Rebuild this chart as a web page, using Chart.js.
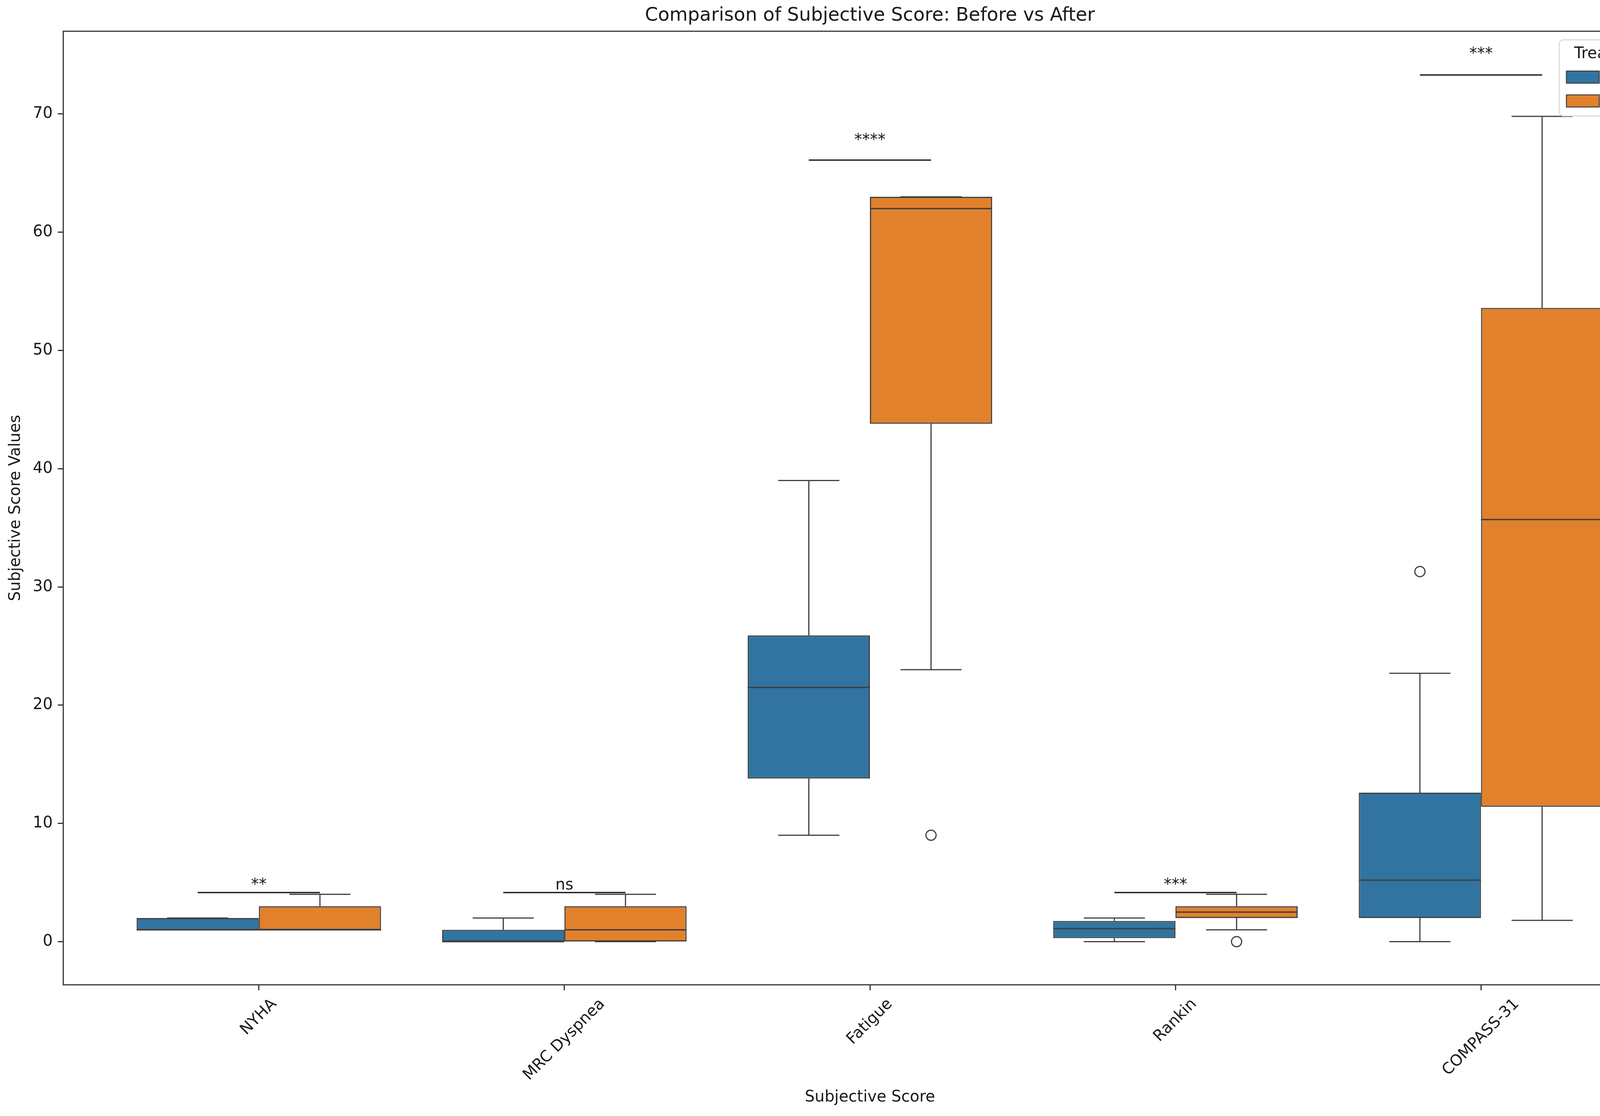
<!DOCTYPE html>
<html>
<head>
<meta charset="utf-8">
<title>Comparison of Subjective Score: Before vs After</title>
<script src="https://cdn.jsdelivr.net/npm/chart.js@4.4.1/dist/chart.umd.min.js"></script>
<style>
  html, body { margin: 0; padding: 0; background: #fff; overflow: hidden; }
  canvas { display: block; }
</style>
</head>
<body>
<canvas id="scoreChart" width="4317" height="2858"></canvas>
<script>
const categories = ["NYHA", "MRC Dyspnea", "Fatigue", "Rankin", "COMPASS-31"];

// After treatment (blue boxes)
const afterMin = [1, 0, 9, 0, 0];
const afterQ1 = [1, 0, 13.8, 0.3, 2];
const afterMedian = [1, 0, 21.5, 1.1, 5.2];
const afterQ3 = [2, 1, 25.9, 1.75, 12.6];
const afterMax = [2, 2, 39, 2, 22.7];
const afterOutliers = [[], [], [], [], [31.3]];

// Before treatment (orange boxes)
const beforeMin = [1, 0, 23, 1, 1.8];
const beforeQ1 = [1, 0, 43.8, 2, 11.4];
const beforeMedian = [1, 1, 62, 2.5, 35.7];
const beforeQ3 = [3, 3, 63, 3, 53.6];
const beforeMax = [4, 4, 63, 4, 69.8];
const beforeOutliers = [[], [], [9], [0], []];

// significance brackets: line level and text baseline level
const sigLabels = ["**", "ns", "****", "***", "***"];
const sigLevels = [4.15, 4.15, 66.1, 4.15, 73.3];
const sigTextLevels = [4.4, 4.4, 67.4, 4.4, 74.7];

const yTicks = [0, 10, 20, 30, 40, 50, 60, 70];

const BLUE = "#3274a1";
const ORANGE = "#e1812c";
const LINE = "#3f3f3f";
const FONT = "'DejaVu Sans', 'Liberation Sans', sans-serif";
const CAT_PCT = 0.8;
const dodge = CAT_PCT / 4;

Chart.defaults.font.family = FONT;
Chart.defaults.color = "#1a1a1a";

const boxStats = [
  { min: afterMin, q1: afterQ1, med: afterMedian, q3: afterQ3, max: afterMax },
  { min: beforeMin, q1: beforeQ1, med: beforeMedian, q3: beforeQ3, max: beforeMax }
];

function outlierPoints(list, shift) {
  const pts = [];
  list.forEach((vals, i) => vals.forEach(v => pts.push({ x: i + shift, y: v })));
  return pts;
}

// whiskers + caps under the boxes, medians over them
const boxParts = {
  id: "boxParts",
  beforeDatasetsDraw(chart) {
    const ctx = chart.ctx;
    const y = chart.scales.y;
    ctx.save();
    ctx.strokeStyle = LINE;
    ctx.lineWidth = 3;
    boxStats.forEach((s, d) => {
      chart.getDatasetMeta(d).data.forEach((bar, i) => {
        const half = bar.width / 4;
        const yMin = y.getPixelForValue(s.min[i]);
        const yMax = y.getPixelForValue(s.max[i]);
        ctx.beginPath();
        ctx.moveTo(bar.x, y.getPixelForValue(s.q1[i]));
        ctx.lineTo(bar.x, yMin);
        ctx.moveTo(bar.x, y.getPixelForValue(s.q3[i]));
        ctx.lineTo(bar.x, yMax);
        ctx.moveTo(bar.x - half, yMin);
        ctx.lineTo(bar.x + half, yMin);
        ctx.moveTo(bar.x - half, yMax);
        ctx.lineTo(bar.x + half, yMax);
        ctx.stroke();
      });
    });
    ctx.restore();
  },
  afterDatasetsDraw(chart) {
    const ctx = chart.ctx;
    const y = chart.scales.y;
    ctx.save();
    ctx.strokeStyle = LINE;
    ctx.lineWidth = 3.5;
    boxStats.forEach((s, d) => {
      chart.getDatasetMeta(d).data.forEach((bar, i) => {
        const py = y.getPixelForValue(s.med[i]);
        ctx.beginPath();
        ctx.moveTo(bar.x - bar.width / 2, py);
        ctx.lineTo(bar.x + bar.width / 2, py);
        ctx.stroke();
      });
    });
    ctx.restore();
  }
};

const extras = {
  id: "extras",
  afterDraw(chart) {
    const ctx = chart.ctx;
    const x = chart.scales.x;
    const y = chart.scales.y;
    const area = chart.chartArea;
    ctx.save();

    // significance lines and stars
    ctx.strokeStyle = "#222";
    ctx.lineWidth = 3.5;
    ctx.fillStyle = "#1a1a1a";
    ctx.font = "40px " + FONT;
    ctx.textAlign = "center";
    ctx.textBaseline = "alphabetic";
    sigLabels.forEach((lab, i) => {
      const py = y.getPixelForValue(sigLevels[i]);
      const x0 = x.getPixelForValue(i - dodge);
      const x1 = x.getPixelForValue(i + dodge);
      ctx.beginPath();
      ctx.moveTo(x0, py);
      ctx.lineTo(x1, py);
      ctx.stroke();
      ctx.fillText(lab, (x0 + x1) / 2, y.getPixelForValue(sigTextLevels[i]));
    });

    // x tick labels, rotated 45 deg and centred on the tick
    ctx.textBaseline = "middle";
    const top = area.bottom + 14 + 13;
    categories.forEach((c, i) => {
      const w = ctx.measureText(c).width;
      const half = (w + 46) * Math.SQRT1_2 / 2;
      ctx.save();
      ctx.translate(x.getPixelForValue(i), top + half);
      ctx.rotate(-Math.PI / 4);
      ctx.fillText(c, 0, 0);
      ctx.restore();
    });

    // axes frame
    ctx.strokeStyle = "#333";
    ctx.lineWidth = 3;
    ctx.strokeRect(area.left, area.top, area.right - area.left, area.bottom - area.top);

    // legend
    const lw = 279, lh = 195;
    const lx = area.right - 21 - lw, ly = area.top + 22;
    ctx.beginPath();
    ctx.roundRect(lx, ly, lw, lh, 10);
    ctx.fillStyle = "rgba(255,255,255,0.8)";
    ctx.fill();
    ctx.strokeStyle = "#d6d6d6";
    ctx.lineWidth = 2.5;
    ctx.stroke();
    ctx.fillStyle = "#1a1a1a";
    ctx.textAlign = "center";
    ctx.fillText("Treatment", lx + lw / 2, ly + 37);
    const entries = [["After", BLUE], ["Before", ORANGE]];
    entries.forEach((e, k) => {
      const ey = ly + 80 + k * 61;
      ctx.fillStyle = e[1];
      ctx.fillRect(lx + 18, ey, 84, 31);
      ctx.strokeStyle = LINE;
      ctx.lineWidth = 2.5;
      ctx.strokeRect(lx + 18, ey, 84, 31);
      ctx.fillStyle = "#1a1a1a";
      ctx.textAlign = "left";
      ctx.fillText(e[0], lx + 128, ey + 17);
    });
    ctx.restore();
  }
};

const boxDataset = (label, s, color) => ({
  label: label,
  data: categories.map((c, i) => ({ x: i, y: [s.q1[i], s.q3[i]] })),
  backgroundColor: color,
  borderColor: LINE,
  borderWidth: 3,
  borderSkipped: false,
  categoryPercentage: CAT_PCT,
  barPercentage: 1
});

const outlierDataset = (label, list, shift) => ({
  type: "scatter",
  label: label,
  data: outlierPoints(list, shift),
  pointStyle: "circle",
  pointRadius: 13,
  backgroundColor: "rgba(0,0,0,0)",
  borderColor: LINE,
  borderWidth: 3
});

new Chart(document.getElementById("scoreChart"), {
  type: "bar",
  data: {
    datasets: [
      boxDataset("After", boxStats[0], BLUE),
      boxDataset("Before", boxStats[1], ORANGE),
      outlierDataset("After outliers", afterOutliers, -dodge),
      outlierDataset("Before outliers", beforeOutliers, dodge)
    ]
  },
  plugins: [boxParts, extras],
  options: {
    responsive: false,
    devicePixelRatio: 1,
    animation: false,
    layout: { padding: { top: 0, right: 25, bottom: 0, left: 0 } },
    plugins: {
      legend: { display: false },
      tooltip: { enabled: false },
      title: {
        display: true,
        fullSize: false,
        text: "Comparison of Subjective Score: Before vs After",
        color: "#1a1a1a",
        font: { size: 48, weight: "normal" },
        padding: { top: 12, bottom: 10.4 }
      }
    },
    scales: {
      x: {
        type: "linear",
        min: -0.64,
        max: 4.64,
        offset: false,
        afterBuildTicks: s => { s.ticks = categories.map((c, i) => ({ value: i })); },
        afterFit: s => { s.height = 336; },
        ticks: { display: false },
        grid: { offset: false, drawOnChartArea: false, drawTicks: true, tickLength: 14, tickWidth: 3, tickColor: "#333" },
        border: { display: false },
        title: {
          display: true,
          text: "Subjective Score",
          color: "#1a1a1a",
          font: { size: 40 },
          padding: { top: 0, bottom: 23 }
        }
      },
      y: {
        min: -3.65,
        max: 77,
        afterBuildTicks: s => { s.ticks = yTicks.map(v => ({ value: v })); },
        afterFit: s => { s.width = 162; },
        ticks: { font: { size: 40 }, color: "#1a1a1a", padding: 13 },
        grid: { drawOnChartArea: false, drawTicks: true, tickLength: 14, tickWidth: 3, tickColor: "#333" },
        border: { display: false },
        title: {
          display: true,
          text: "Subjective Score Values",
          color: "#1a1a1a",
          font: { size: 40 },
          padding: { top: 17, bottom: 0 }
        }
      }
    }
  }
});
</script>
</body>
</html>
